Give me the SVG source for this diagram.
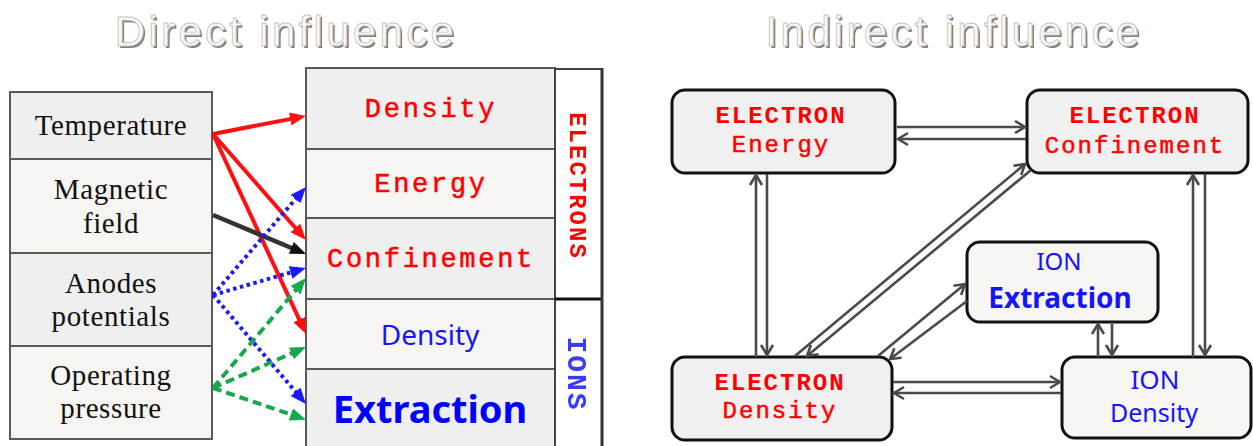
<svg xmlns="http://www.w3.org/2000/svg" width="1253" height="446" viewBox="0 0 1253 446">
  <style>
    .title { font-family: "Liberation Sans", Arial, sans-serif; font-size: 42px; letter-spacing: 3.3px; text-anchor: middle; }
    .title-face { fill: #fbfbfb; stroke: #c4c4c4; stroke-width: 0.9px; }
    .title-shadow { fill: #7d7d7d; }
    .cell { stroke: #5a5a5a; stroke-width: 2; }
    .fa { fill: #efefef; }
    .fb { fill: #f6f5f1; }
    .serif { font-family: "Liberation Serif", "Times New Roman", serif; font-size: 29px; fill: #111; text-anchor: middle; letter-spacing: 0.6px; }
    .mono { font-family: "Liberation Mono", "Courier New", monospace; fill: #ff0000; text-anchor: middle; }
    .thick { stroke: #ff0000; stroke-width: 0.5px; }
    .sans { font-family: "Noto Sans", "Open Sans", sans-serif; fill: #1414ff; text-anchor: middle; }
    .node { stroke: #111; stroke-width: 3; }
    .link { fill: none; stroke: #4a4a4a; stroke-width: 2.6; marker-end: url(#chev); }
    .red { stroke: #ff1010; stroke-width: 4; fill: none; marker-end: url(#headRed); }
    .blk { stroke: #333; stroke-width: 4.5; fill: none; marker-end: url(#headBlk); }
    .blu { stroke: #1a1aff; stroke-width: 4; fill: none; stroke-dasharray: 3.5 3.5; marker-end: url(#headBlu); }
    .grn { stroke: #19a84e; stroke-width: 4; fill: none; stroke-dasharray: 9 5; marker-end: url(#headGrn); }
  </style>
  <defs>
    <marker id="headRed" markerUnits="userSpaceOnUse" viewBox="0 0 16 13" refX="10" refY="6.5" markerWidth="16" markerHeight="13" orient="auto">
      <path d="M0,0 L16,6.5 L0,13 z" fill="#ff1010"/>
    </marker>
    <marker id="headBlk" markerUnits="userSpaceOnUse" viewBox="0 0 16 13" refX="10" refY="6.5" markerWidth="16" markerHeight="13" orient="auto">
      <path d="M0,0 L16,6.5 L0,13 z" fill="#111"/>
    </marker>
    <marker id="headBlu" markerUnits="userSpaceOnUse" viewBox="0 0 16 13" refX="10" refY="6.5" markerWidth="16" markerHeight="13" orient="auto">
      <path d="M0,0 L16,6.5 L0,13 z" fill="#1a1aff"/>
    </marker>
    <marker id="headGrn" markerUnits="userSpaceOnUse" viewBox="0 0 16 13" refX="10" refY="6.5" markerWidth="16" markerHeight="13" orient="auto">
      <path d="M0,0 L16,6.5 L0,13 z" fill="#19a84e"/>
    </marker>
    <marker id="chev" markerUnits="userSpaceOnUse" viewBox="-2 -2 14 16" refX="10" refY="6" markerWidth="14" markerHeight="16" orient="auto">
      <path d="M0,0 L10,6 L0,12" fill="none" stroke="#4a4a4a" stroke-width="2.6"/>
    </marker>
    <filter id="soft" x="-5%" y="-20%" width="110%" height="140%">
      <feGaussianBlur stdDeviation="0.7"/>
    </filter>
  </defs>

  <!-- headings -->
  <g id="heading-direct">
    <text class="title title-shadow" x="288" y="48" filter="url(#soft)">Direct influence</text>
    <text class="title title-face" x="286" y="46">Direct influence</text>
  </g>
  <g id="heading-indirect">
    <text class="title title-shadow" x="956" y="48" filter="url(#soft)">Indirect influence</text>
    <text class="title title-face" x="954" y="46">Indirect influence</text>
  </g>

  <!-- control parameters -->
  <g id="param-temperature">
    <rect class="cell fa" x="10" y="92" width="202" height="67"/>
    <text class="serif" x="111" y="135">Temperature</text>
  </g>
  <g id="param-magnetic">
    <rect class="cell fb" x="10" y="159" width="202" height="94"/>
    <text class="serif" x="111" y="199">Magnetic</text>
    <text class="serif" x="111" y="233">field</text>
  </g>
  <g id="param-anodes">
    <rect class="cell fa" x="10" y="253" width="202" height="93"/>
    <text class="serif" x="111" y="293">Anodes</text>
    <text class="serif" x="111" y="326">potentials</text>
  </g>
  <g id="param-pressure">
    <rect class="cell fb" x="10" y="346" width="202" height="93"/>
    <text class="serif" x="111" y="385">Operating</text>
    <text class="serif" x="111" y="418">pressure</text>
  </g>

  <!-- plasma properties -->
  <g id="prop-e-density">
    <rect class="cell fa" x="306" y="68" width="249" height="81"/>
    <text class="mono thick" x="431" y="117" font-size="27" letter-spacing="2.7">Density</text>
  </g>
  <g id="prop-e-energy">
    <rect class="cell fb" x="306" y="149" width="249" height="69"/>
    <text class="mono thick" x="431" y="192" font-size="27" letter-spacing="2.7">Energy</text>
  </g>
  <g id="prop-e-confinement">
    <rect class="cell fa" x="306" y="218" width="249" height="81"/>
    <text class="mono thick" x="431" y="267" font-size="27" letter-spacing="2.7">Confinement</text>
  </g>
  <g id="prop-i-density">
    <rect class="cell fb" x="306" y="299" width="249" height="70"/>
    <text class="sans" x="430" y="345" font-size="28">Density</text>
  </g>
  <g id="prop-i-extraction">
    <rect class="cell fa" x="306" y="369" width="249" height="90"/>
    <text class="sans" x="430" y="423" font-size="38" font-weight="bold" style="fill:#0000ff">Extraction</text>
  </g>

  <!-- species labels -->
  <g id="label-electrons">
    <rect x="555" y="69" width="47" height="230" fill="#fff" stroke="#444" stroke-width="2"/>
    <text class="mono" transform="translate(578,185) rotate(90)" x="1" y="8" font-size="24" font-weight="bold" letter-spacing="2" filter="url(#soft)">ELECTRONS</text>
  </g>
  <g id="label-ions">
    <rect x="555" y="299" width="47" height="160" fill="#fff" stroke="#444" stroke-width="2"/>
    <text class="mono" transform="translate(577,373) rotate(90)" x="1" y="9" font-size="28" font-weight="bold" letter-spacing="2" style="fill:#3a3aff" filter="url(#soft)">IONS</text>
  </g>
  <line x1="555" y1="299" x2="603" y2="299" stroke="#111" stroke-width="3"/>
  <line x1="602" y1="68" x2="602" y2="446" stroke="#333" stroke-width="3"/>

  <!-- direct influence arrows -->
  <g id="direct-links">
    <line class="red" x1="213" y1="134" x2="300.1" y2="117.1"/>
    <line class="red" x1="213" y1="134" x2="302" y2="235.5"/>
    <line class="red" x1="213" y1="134" x2="303.5" y2="328.6"/>
    <line class="blk" x1="213" y1="215" x2="300.5" y2="251.7"/>
    <line class="blu" x1="213" y1="295" x2="302.1" y2="191.5"/>
    <line class="blu" x1="213" y1="295" x2="300.2" y2="269.7"/>
    <line class="blu" x1="213" y1="295" x2="302.1" y2="399.4"/>
    <line class="grn" x1="213" y1="388" x2="302.1" y2="282.6"/>
    <line class="grn" x1="213" y1="388" x2="300.5" y2="349.4"/>
    <line class="grn" x1="213" y1="388" x2="300.3" y2="417.7"/>
  </g>

  <!-- indirect influence nodes -->
  <g id="node-e-energy">
    <rect class="node" x="672" y="90" width="223" height="83" rx="13" fill="#f0f0f0"/>
    <text class="mono" x="781" y="123" font-size="24" font-weight="bold" letter-spacing="2">ELECTRON</text>
    <text class="mono thick" x="781" y="152" font-size="24" letter-spacing="2">Energy</text>
  </g>
  <g id="node-e-confinement">
    <rect class="node" x="1027" y="90" width="221" height="83" rx="13" fill="#f0f0f0"/>
    <text class="mono" x="1135" y="123" font-size="24" font-weight="bold" letter-spacing="2">ELECTRON</text>
    <text class="mono thick" x="1135" y="153" font-size="24" letter-spacing="2">Confinement</text>
  </g>
  <g id="node-i-extraction">
    <rect class="node" x="967" y="242" width="191" height="80" rx="13" fill="#f7f6f2"/>
    <text class="sans" x="1059" y="270" font-size="24">ION</text>
    <text class="sans" x="1060" y="308" font-size="28" font-weight="bold">Extraction</text>
  </g>
  <g id="node-e-density">
    <rect class="node" x="672" y="357" width="220" height="83" rx="13" fill="#f0f0f0"/>
    <text class="mono" x="780" y="390" font-size="24" font-weight="bold" letter-spacing="2">ELECTRON</text>
    <text class="mono thick" x="780" y="418" font-size="24" letter-spacing="2">Density</text>
  </g>
  <g id="node-i-density">
    <rect class="node" x="1062" y="357" width="189" height="81" rx="13" fill="#f7f6f2"/>
    <text class="sans" x="1155" y="389" font-size="26">ION</text>
    <text class="sans" x="1154" y="422" font-size="25">Density</text>
  </g>

  <!-- indirect influence connectors -->
  <g id="indirect-links">
    <line class="link" x1="897" y1="127" x2="1025" y2="127"/>
    <line class="link" x1="1026" y1="139" x2="898" y2="139"/>
    <line class="link" x1="756" y1="357" x2="756" y2="175"/>
    <line class="link" x1="767" y1="174" x2="767" y2="355"/>
    <line class="link" x1="1193" y1="357" x2="1193" y2="175"/>
    <line class="link" x1="1205" y1="174" x2="1205" y2="355"/>
    <line class="link" x1="795" y1="356" x2="1025" y2="164"/>
    <line class="link" x1="1031" y1="170" x2="807" y2="356"/>
    <line class="link" x1="878" y1="356" x2="965" y2="284"/>
    <line class="link" x1="967" y1="301" x2="890" y2="359"/>
    <line class="link" x1="893" y1="382" x2="1060" y2="382"/>
    <line class="link" x1="1061" y1="393" x2="894" y2="393"/>
    <line class="link" x1="1098" y1="357" x2="1098" y2="324"/>
    <line class="link" x1="1112" y1="322" x2="1112" y2="355"/>
  </g>
</svg>
